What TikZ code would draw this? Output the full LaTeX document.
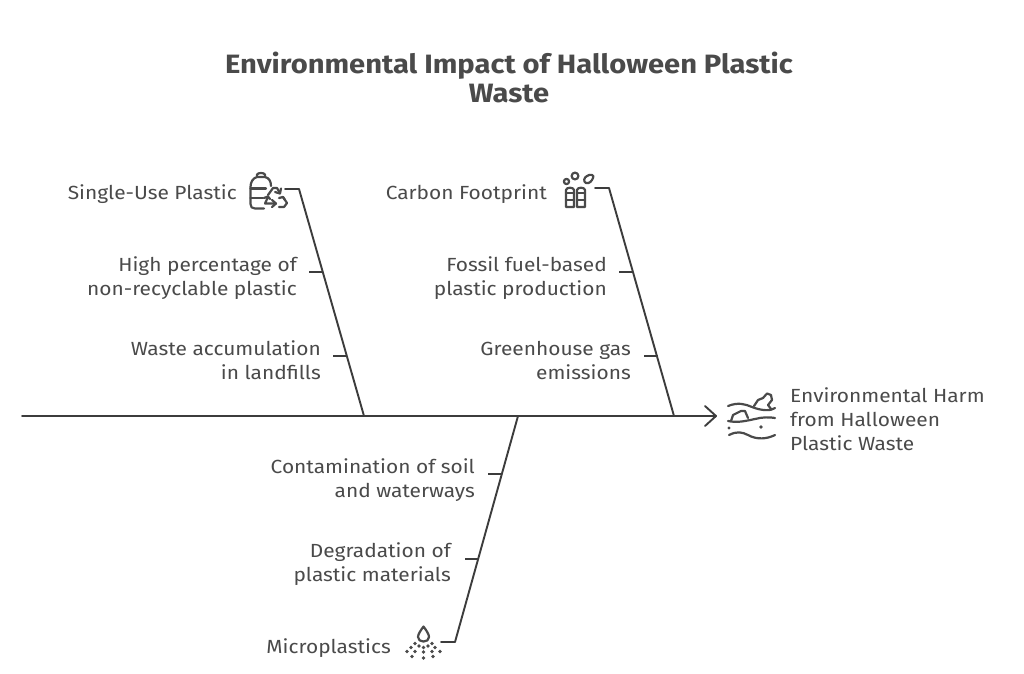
\documentclass[tikz,border=0pt]{standalone}
\usepackage{fontspec}
\setmainfont[FakeStretch=1.1]{Fira Sans}
\definecolor{ink}{HTML}{4A4A4A}
\definecolor{linec}{HTML}{3C3C3C}
\tikzset{
  x=1pt,y=-1pt,
  lbl/.style={text=ink,font=\fontsize{19}{24}\selectfont,inner sep=0pt,align=right,anchor=east},
  lbll/.style={text=ink,font=\fontsize{19}{24}\selectfont,inner sep=0pt,align=left,anchor=west},
  ttl/.style={text=ink,font=\fontsize{26.5}{29}\selectfont\bfseries,inner sep=0pt,align=center},
  bone/.style={draw=linec,line width=1.9pt,line join=round,line cap=round},
  tick/.style={draw=linec,line width=1.5pt},
  icon/.style={draw=ink,line width=2.2pt,line cap=round,line join=round,fill=none},
}
\begin{document}
\begin{tikzpicture}
\useasboundingbox (0,0) rectangle (1024,673);
\fill[white] (0,0) rectangle (1024,673);
\node[ttl] (title) at (509,77) {Environmental Impact of Halloween Plastic\\Waste};
% coordinates
\coordinate (mS) at (22,416);
\coordinate (mE) at (716,416);
\coordinate (a0) at (299,189);\coordinate (a1) at (364,416);
\coordinate (b0) at (609,188);\coordinate (b1) at (674,416);
\coordinate (c0) at (518,416);\coordinate (c1) at (455,642);
\draw[bone] (mS) -- (mE);
\draw[bone] (705,406) -- (mE) -- (705,426);
\draw[bone] (285,189) -- (a0) -- (a1);
\draw[bone] (595,188) -- (b0) -- (b1);
\draw[bone] (c0) -- (c1) -- (441,642);
% ticks
\coordinate (t1) at (309,272);\coordinate (t1e) at (323,272);
\coordinate (t2) at (333,356);\coordinate (t2e) at (347,356);
\coordinate (t3) at (619,272);\coordinate (t3e) at (633,272);
\coordinate (t4) at (644,356);\coordinate (t4e) at (658,356);
\coordinate (t5) at (488,474);\coordinate (t5e) at (502,474);
\coordinate (t6) at (465,559);\coordinate (t6e) at (479,559);
\draw[tick] (t1) -- (t1e);
\draw[tick] (t2) -- (t2e);
\draw[tick] (t3) -- (t3e);
\draw[tick] (t4) -- (t4e);
\draw[tick] (t5) -- (t5e);
\draw[tick] (t6) -- (t6e);
% labels
\node[lbl] (n1) at (237,194) {Single-Use Plastic};
\node[lbl] (n2) at (297,278) {High percentage of\\non-recyclable plastic};
\node[lbl] (n3) at (321,360.5) {Waste accumulation\\in landfills};
\node[lbl] (n4) at (547,194) {Carbon Footprint};
\node[lbl] (n5) at (607,278) {Fossil fuel-based\\plastic production};
\node[lbl] (n6) at (631,360) {Greenhouse gas\\emissions};
\node[lbl] (n7) at (475,480) {Contamination of soil\\and waterways};
\node[lbl] (n8) at (451,564) {Degradation of\\plastic materials};
\node[lbl] (n9) at (391,648) {Microplastics};
\node[lbll] (n10) at (790,419) {Environmental Harm\\from Halloween\\Plastic Waste};
% bottle + recycle icon
\draw[icon] (257,177) -- (257,174.5) .. controls (258,172.5) and (264,172.5) .. (265,174.5) -- (265,177);
\draw[icon] (271,186) .. controls (271,181) and (269,178) .. (265,177) -- (257,177) .. controls (253,178) and (250.5,182) .. (250.5,187) -- (250.5,204) .. controls (250.5,207) and (252,208.5) .. (255,208.5) -- (264,208.5);
\draw[icon] (250.5,188.5) -- (266,188.5) (250.5,198) -- (263,198);
\draw[icon] (268,195) -- (273,188) -- (277,188) -- (280,193);
\draw[icon] (275,192) -- (280,193.5) -- (281,188.5);
\draw[icon] (268,197) -- (265,203.5) -- (275,203.5);
\draw[icon] (270,199) -- (268,196.5) -- (264,198);
\draw[icon] (272,200) -- (276,203.5) -- (272,207);
\draw[icon] (283,197) -- (287,203) -- (284,207) -- (279,207);
\draw[icon] (279,198) -- (283,197) -- (285,200);
% carbon icon
\draw[icon] (566,190) .. controls (566,187) and (574,187) .. (574,190) -- (574,207) -- (566,207) -- cycle;
\draw[icon] (577,190) .. controls (577,187) and (585,187) .. (585,190) -- (585,207) -- (577,207) -- cycle;
\draw[icon] (566,193) -- (574,193) (577,193) -- (585,193);
\draw[icon] (566,200) -- (574,200) (577,200) -- (585,200);
\draw[icon] (566.5,181.5) circle (2.6);
\draw[icon] (575,176) circle (3.4);
\draw[icon] (586,183) .. controls (583,182) and (584,177) .. (587,176) .. controls (590,173.5) and (595,175) .. (593,178) .. controls (592,181) and (589,184) .. (586,183) -- cycle;
% sea icon
\draw[icon] (728,406) .. controls (738,402) and (745,404) .. (752,407) .. controls (762,411) and (771,411) .. (775,408);
\draw[icon] (754,406) -- (758,400) -- (763,398) -- (767,393.5) -- (771,395) -- (772,400) -- (768,405) -- (771,409);
\draw[icon] (728,421) .. controls (738,423) and (745,421) .. (755,419) .. controls (762,417) and (770,417) .. (775,418);
\draw[icon] (731,421) -- (733,415) -- (741,411) -- (745,411) -- (748,418);
\draw[icon] (729,435) .. controls (737,431) and (742,432) .. (748,435) .. controls (757,440) and (767,439) .. (775,435);
\fill[ink] (729,428) circle (1.6) (761,427) circle (1.9);
% drop icon
\draw[icon] (423.5,626.5) .. controls (421,630) and (418,634) .. (418,637) .. controls (418,640) and (420.5,641.5) .. (423.5,641.5) .. controls (426.5,641.5) and (429,640) .. (429,637) .. controls (429,634) and (426,630) .. (423.5,626.5) -- cycle;
\foreach \x/\y in {415/643.5,419/646,423.5/647.5,428/646,432/643.5,411/647.5,435/647.5,407/651.5,415/651.5,423.5/652,432/651.5,440/651.5,412/656.5,423.5/658,433/656.5}
  \fill[ink] (\x,\y) circle (1.9);
\end{tikzpicture}
\end{document}
